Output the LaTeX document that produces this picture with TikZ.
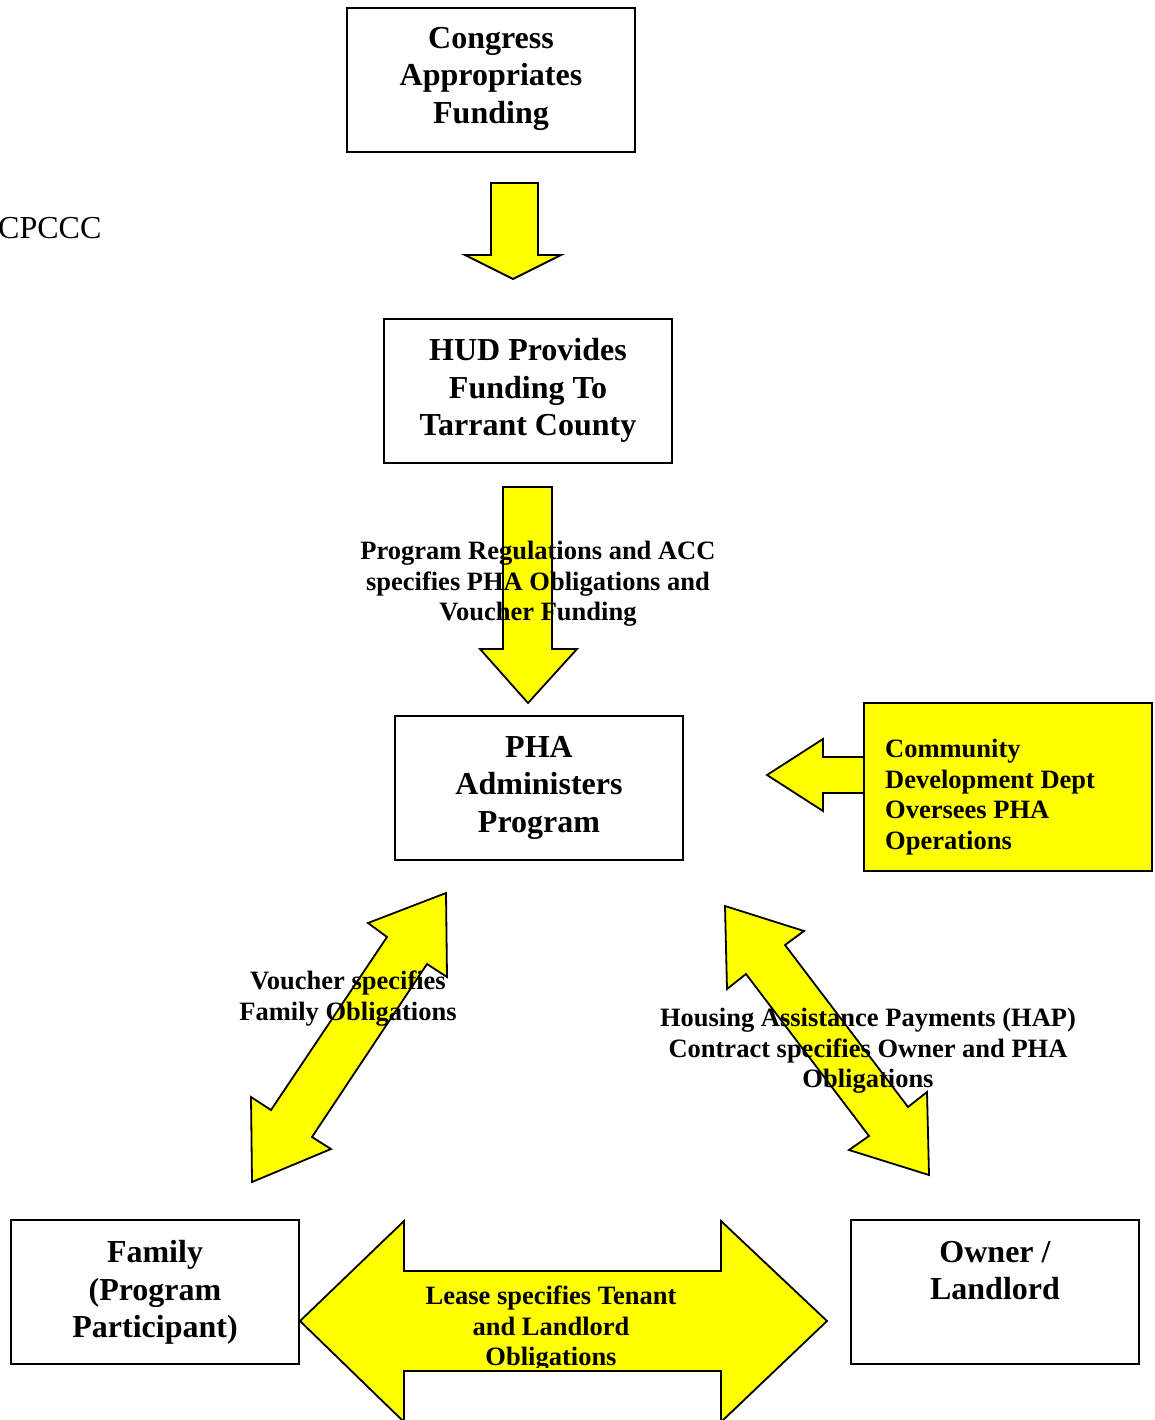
\documentclass[tikz,border=0pt]{standalone}
\usepackage{fontspec}
\setmainfont{Liberation Serif}
\definecolor{ayellow}{RGB}{255,255,0}
\tikzset{
  box/.style={draw=black, line width=1.8pt, minimum width=288pt, minimum height=144pt, inner sep=0pt},
  boxtext/.style={anchor=north, align=center, inner sep=0pt, font=\fontsize{32}{37.5}\selectfont\bfseries},
  lbl/.style={anchor=north, align=center, inner sep=0pt, font=\fontsize{26.5}{30.5}\selectfont\bfseries},
  blockarrow/.style={fill=ayellow, draw=black, line width=1.8pt, line join=miter},
}
\begin{document}
\begin{tikzpicture}[x=1pt, y=-1pt]
\useasboundingbox (0,0) rectangle (1154,1420);
\fill[white] (0,0) rectangle (1154,1420);

% boxes
\node[box] (congress) at (491,80) {};
\node[box] (hud) at (528,391) {};
\node[box] (pha) at (539,788) {};
\node[box] (family) at (155,1292) {};
\node[box] (owner) at (995,1292) {};

% block arrows
\draw[blockarrow] (491,183) -- (538,183) -- (538,255) -- (561,255) -- (513,279) -- (465,255) -- (491,255) -- cycle;
\draw[blockarrow] (503,487) -- (552,487) -- (552,649) -- (577,649) -- (528,703) -- (480,649) -- (503,649) -- cycle;
\draw[blockarrow] (866,757) -- (823,757) -- (823,739) -- (767,775) -- (823,811) -- (823,793) -- (866,793) -- cycle;
\draw[blockarrow] (446,893) -- (447,977) -- (427,964) -- (312,1137) -- (331,1149) -- (252,1182) -- (251,1097) -- (271,1110) -- (387,937) -- (368,923) -- cycle;
\draw[blockarrow] (725,906) -- (804,931) -- (785,945) -- (908,1107) -- (927,1092) -- (929,1175) -- (849,1150) -- (869,1136) -- (746,974) -- (727,989) -- cycle;
\draw[blockarrow] (300,1321) -- (404,1221) -- (404,1271) -- (721,1271) -- (721,1221) -- (827,1321) -- (721,1422) -- (721,1371) -- (404,1371) -- (404,1422) -- cycle;

% community box (yellow)
\node[box, fill=ayellow, minimum height=168pt] (community) at (1008,787) {};

% box texts
\node[boxtext] (congress-t) at ([yshift=-20pt]congress.north) {Congress\\Appropriates\\Funding};
\node[boxtext] (hud-t) at ([yshift=-20pt]hud.north) {HUD Provides\\Funding To\\Tarrant County};
\node[boxtext] (pha-t) at ([yshift=-21pt]pha.north) {PHA\\Administers\\Program};
\node[boxtext] (family-t) at ([yshift=-21pt]family.north) {Family\\(Program\\Participant)};
\node[boxtext] (owner-t) at ([yshift=-21.5pt]owner.north) {Owner /\\Landlord};
\node[lbl, anchor=north west, align=left] (community-t) at (885,739) {Community\\Development Dept\\Oversees PHA\\Operations};

% arrow labels
\node[lbl] (regs) at (538,541) {Program Regulations and ACC\\specifies PHA Obligations and\\Voucher Funding};
\node[lbl] (voucher) at (348,971) {Voucher specifies\\Family Obligations};
\node[lbl] (hap) at (868,1008) {Housing Assistance Payments (HAP)\\Contract specifies Owner and PHA\\Obligations};
\begin{scope}
\clip (404,1272) rectangle (721,1367);
\node[lbl] (lease) at (551,1286) {Lease specifies Tenant\\and Landlord\\Obligations};
\end{scope}

% stray text
\node[anchor=base west, inner sep=0pt, font=\fontsize{32}{37.5}\selectfont] (cpccc) at (-2,239) {CPCCC};
\end{tikzpicture}
\end{document}
